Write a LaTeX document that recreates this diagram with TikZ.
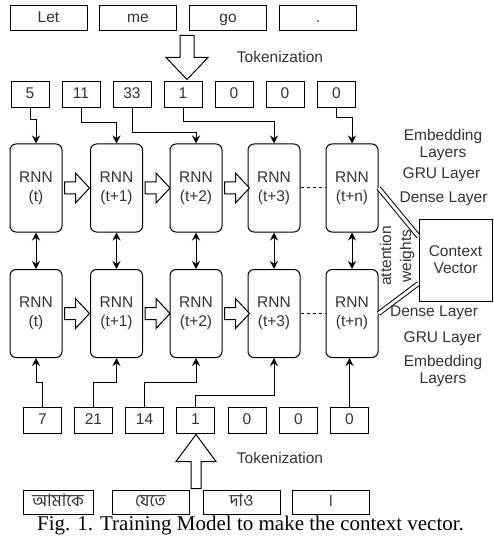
\documentclass[tikz,border=0pt]{standalone}
\usepackage{fontspec}
\setmainfont{Liberation Sans}
\newfontfamily\capfont{Liberation Serif}
\newfontfamily\bnfont[Script=Bengali]{Hind Siliguri}
\usetikzlibrary{arrows.meta,calc}
\tikzset{
 box/.style={draw, line width=1pt, minimum width=38pt, minimum height=26pt, inner sep=0pt, text height=11pt, text depth=3pt},
 wordbox/.style={box, minimum width=77pt, minimum height=25pt},
 rnn/.style={draw, line width=1pt, rounded corners=6pt, minimum width=52pt, minimum height=88pt, align=center, inner sep=0pt},
 outline/.style={draw, line width=1pt, fill=white, line join=miter},
 conn/.style={line width=1pt, -{Stealth[length=8pt,width=8pt]}},
 bothway/.style={line width=1pt, {Stealth[length=8pt,width=8pt]}-{Stealth[length=8pt,width=8pt]}},
 link/.style={double, double distance=3pt, line width=1pt},
 txt/.style={align=center, text=black!80}
}
\newcommand{\openarrow}[6]{
 \draw[outline, shift={#1}, rotate=#2] (0,-#4) -- (#3-#6,-#4) -- (#3-#6,-#5) -- (#3,0) -- (#3-#6,#5) -- (#3-#6,#4) -- (0,#4) -- cycle;
}
\begin{document}
\begin{tikzpicture}[x=1pt, y=-1pt, font=\fontsize{15.5}{19}\selectfont, text=black!80]
 \useasboundingbox (0,0) rectangle (493,537);
%
 \node[wordbox] (w1) at (48.5,18.5) {Let};
 \node[wordbox] (w2) at (138,18.5) {me};
 \node[wordbox] (w3) at (228,18.5) {go};
 \node[wordbox] (w4) at (318,18.5) {.};
%
 \openarrow{($(w3.south west)+(-2,4)$)}{-90}{44}{7}{21}{22}
 \node[txt] (tok1) at (280,57) {Tokenization};
%
 \node[box] (n1) at (30,95) {5};
 \node[box] (n2) at (81,95) {11};
 \node[box] (n3) at (132,95) {33};
 \node[box] (n4) at (183,95) {1};
 \node[box] (n5) at (234,95) {0};
 \node[box] (n6) at (285,95) {0};
 \node[box] (n7) at (336.5,95) {0};
%
 \node[rnn] (enc1) at (36,188) {RNN\\(t)};
 \node[rnn] (enc2) at (116.5,188) {RNN\\(t+1)};
 \node[rnn] (enc3) at (196,188) {RNN\\(t+2)};
 \node[rnn] (enc4) at (274,188) {RNN\\(t+3)};
 \node[rnn] (enc5) at (352,188) {RNN\\(t+n)};
%
 \node[rnn] (dec1) at (36,313.5) {RNN\\(t)};
 \node[rnn] (dec2) at (116.5,313.5) {RNN\\(t+1)};
 \node[rnn] (dec3) at (196,313.5) {RNN\\(t+2)};
 \node[rnn] (dec4) at (274,313.5) {RNN\\(t+3)};
 \node[rnn] (dec5) at (352,313.5) {RNN\\(t+n)};
%
 \draw[conn] (n1.south) -- ++(0,11) -| (enc1.north);
 \draw[conn] (n2.south) -- ++(0,14) -| (enc2.north);
 \draw[conn] (n3.south) -- ++(0,24) -| (enc3.north);
 \draw[conn] (n4.south) -- ++(0,13) -| (enc4.north);
 \draw[conn] (n7.south) -- ++(0,9) -| (enc5.north);
%
 \openarrow{($(enc1.east)+(2,0)$)}{0}{25}{6}{15}{14}
 \openarrow{($(enc2.east)+(2,0)$)}{0}{25}{6}{15}{14}
 \openarrow{($(enc3.east)+(2,0)$)}{0}{25}{6}{15}{14}
 \openarrow{($(dec1.east)+(2,0)$)}{0}{25}{6}{15}{14}
 \openarrow{($(dec2.east)+(2,0)$)}{0}{25}{6}{15}{14}
 \openarrow{($(dec3.east)+(2,0)$)}{0}{25}{6}{15}{14}
 \draw[dashed, line width=1pt] (enc4.east) -- (enc5.west);
 \draw[dashed, line width=1pt] (dec4.east) -- (dec5.west);
%
 \draw[bothway] (enc1.south) -- (dec1.north);
 \draw[bothway] (enc2.south) -- (dec2.north);
 \draw[bothway] (enc3.south) -- (dec3.north);
 \draw[bothway] (enc4.south) -- (dec4.north);
 \draw[bothway] (enc5.south) -- (dec5.north);
%
 \node[draw, line width=1pt, minimum width=73pt, minimum height=82pt, align=center, inner sep=0pt, font=\fontsize{15.5}{17}\selectfont] (cv) at (455.5,260) {Context\\Vector};
 \draw[link] (enc5.east) -- ($(cv.north west)+(0,18)$);
 \draw[link] (dec5.east) -- ($(cv.south west)+(0,-18)$);
 \node[txt, rotate=90, font=\fontsize{15.5}{20}\selectfont] (attn) at (397,256) {attention\\weights};
%
 \node[txt, font=\fontsize{15.5}{17}\selectfont] (emb1) at (443,145) {Embedding\\Layers};
 \node[txt] (gru1) at (441.5,175) {GRU Layer};
 \node[txt] (dns1) at (443.5,199) {Dense Layer};
 \node[txt] (dns2) at (434,313) {Dense Layer};
 \node[txt] (gru2) at (442.5,339) {GRU Layer};
 \node[txt, font=\fontsize{15.5}{17}\selectfont] (emb2) at (443,370.5) {Embedding\\Layers};
%
 \node[box] (m1) at (42.5,420.5) {7};
 \node[box] (m2) at (93.5,420.5) {21};
 \node[box] (m3) at (144.5,420.5) {14};
 \node[box] (m4) at (195.5,420.5) {1};
 \node[box] (m5) at (247,420.5) {0};
 \node[box] (m6) at (298.5,420.5) {0};
 \node[box] (m7) at (349.5,420.5) {0};
%
 \draw[conn] (m1.north) -- ++(0,-25) -| (dec1.south);
 \draw[conn] (m2.north) -- ++(0,-25) -| (dec2.south);
 \draw[conn] (m3.north) -- ++(0,-25) -| (dec3.south);
 \draw[conn] (m4.north) -- ++(0,-12) -| (dec4.south);
 \draw[conn] (m7.north) -- (m7.north |- dec5.south);
%
 \node[wordbox, minimum width=70pt, minimum height=24pt, font=\bnfont\fontsize{17}{19}\selectfont] (bw1) at (58,502) {আমাকে};
 \node[wordbox, minimum height=24pt, font=\bnfont\fontsize{17}{19}\selectfont] (bw2) at (150.5,502) {যেতে};
 \node[wordbox, minimum height=24pt, font=\bnfont\fontsize{17}{19}\selectfont] (bw3) at (241.5,502) {দাও};
 \node[wordbox, minimum height=24pt, font=\bnfont\fontsize{17}{19}\selectfont] (bw4) at (330.5,502) {।};
%
 \openarrow{($(bw2.north east)!0.5!(bw3.north west)+(0,-1)$)}{90}{54}{5}{20}{27}
 \node[txt] (tok2) at (280,458) {Tokenization};
%
 \node[anchor=base, text=black, font=\capfont\fontsize{21}{24}\selectfont] (cap) at (250.5,530) {Fig. 1. Training Model to make the context vector.};
\end{tikzpicture}
\end{document}
